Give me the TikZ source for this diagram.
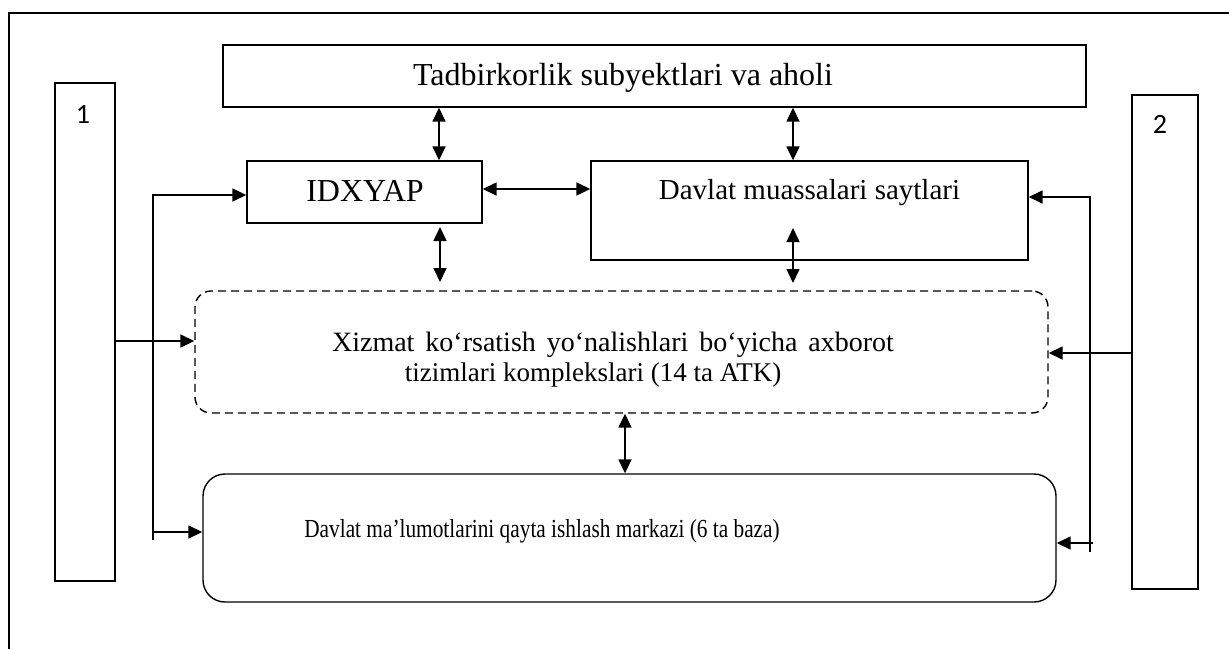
\documentclass[tikz,border=0pt]{standalone}
\usepackage{fontspec}
\setmainfont{Liberation Serif}
\newfontfamily\numfont{Carlito}
\newfontfamily\condfont[FakeStretch=0.82]{Liberation Serif}
\usetikzlibrary{arrows.meta,calc}
\begin{document}
\begin{tikzpicture}[x=1pt,y=-1pt,
  box/.style={draw,line width=1.4pt,inner sep=0pt,minimum width=#1},
  arr/.style={line width=1.6pt,-{Triangle[length=14pt,width=13pt]}},
  dbl/.style={line width=1.6pt,{Triangle[length=14pt,width=13pt]}-{Triangle[length=14pt,width=13pt]}},
  lbl/.style={inner sep=0pt,anchor=base}
]
\useasboundingbox (0,0) rectangle (1229,649);
% frame
\draw[line width=1.7pt] (9,649) -- (9,13) -- (1229,13);

% boxes
\node[box=863pt,minimum height=62pt] (top) at (654.5,76) {};
\node[box=235pt,minimum height=62pt] (idx) at (364.5,192) {};
\node[box=437pt,minimum height=99pt] (site) at (809.5,210.5) {};
\node[box=853pt,minimum height=122pt,rounded corners=16pt,dash pattern=on 8pt off 5pt] (atk) at (621.5,352) {};
\node[box=853pt,minimum height=128pt,rounded corners=22pt] (dmm) at (629.5,538) {};
\node[box=60pt,minimum height=498pt] (one) at (85,332) {};
\node[box=66pt,minimum height=494pt] (two) at (1165,342) {};

% texts
\node[lbl,font=\fontsize{32}{36}\selectfont] (ttop) at (623,85) {Tadbirkorlik subyektlari va aholi};
\node[lbl,font=\fontsize{32}{36}\selectfont] (tidx) at (365,201.5) {IDXYAP};
\node[lbl,font=\fontsize{29}{34}\selectfont] (tsite) at (809.5,199) {Davlat muassalari saytlari};
\node[lbl,align=center,font=\fontsize{27}{29.5}\selectfont] (tatk) at (613,381) {{\fontsize{28}{29.5}\selectfont\spaceskip=11pt\relax Xizmat ko‘rsatish yo‘nalishlari bo‘yicha axborot}\\tizimlari komplekslari (14 ta ATK)\hspace*{40pt}};
\node[lbl,font=\condfont\fontsize{26}{30}\selectfont] (tdmm) at (542,537) {Davlat ma’lumotlarini qayta ishlash markazi (6 ta baza)};
\node[lbl,font=\numfont\fontsize{28}{32}\selectfont] (tone) at (83,123) {1};
\node[lbl,font=\numfont\fontsize{28}{32}\selectfont] (ttwo) at (1160,133) {2};

% helper coordinates
\coordinate (c1) at (439,0);
\coordinate (c2) at (793,0);
\coordinate (c4) at (625,0);
\coordinate (a1) at (440,227);
\coordinate (a2) at (440,282);
\coordinate (b1) at (793,228);
\coordinate (b2) at (793,283);
\coordinate (r1) at (0,189);
\coordinate (L1) at (153,540);
\coordinate (L2) at (0,195);
\coordinate (L3) at (152,532);
\coordinate (L4) at (0,341);
\coordinate (R1) at (1090,552);
\coordinate (R2) at (0,197);
\coordinate (R3) at (1093,543);
\coordinate (R4) at (0,353);

% connectors
\draw[dbl] (top.south -| c1) -- (idx.north -| c1);
\draw[dbl] (top.south -| c2) -- (site.north -| c2);
\draw[dbl] (a1) -- (a2);
\draw[dbl] (b1) -- (b2);
\draw[dbl] (idx.east |- r1) -- (site.west |- r1);
\draw[dbl] (atk.south -| c4) -- (dmm.north -| c4);

\draw[arr] (L1) |- (idx.west |- L2);
\draw[arr] (L3) -- (dmm.west |- L3);
\draw[arr] (one.east |- L4) -- (atk.west |- L4);

\draw[arr] (R1) |- (site.east |- R2);
\draw[arr] (R3) -- (dmm.east |- R3);
\draw[arr] (two.west |- R4) -- (atk.east |- R4);
\end{tikzpicture}
\end{document}
